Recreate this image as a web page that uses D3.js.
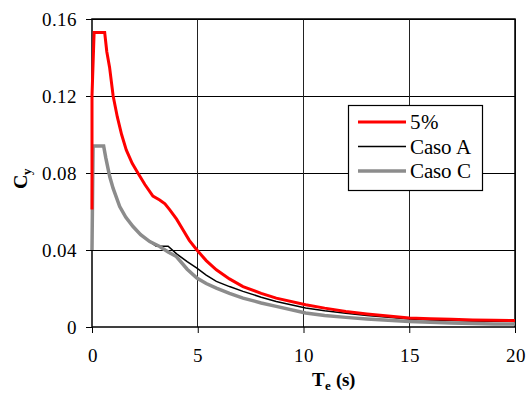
<!DOCTYPE html>
<html>
<head>
<meta charset="utf-8">
<script src="https://cdn.jsdelivr.net/npm/d3@7"></script>
<style>
  @font-face { font-family: "SerifX"; font-weight: 400; src: local("Liberation Serif"), local("LiberationSerif"), local("LiberationSerif-Regular"), local("DejaVu Serif"), local("DejaVuSerif"), local("Times New Roman"), local("Noto Serif"); }
  @font-face { font-family: "SerifX"; font-weight: 700; src: local("Liberation Serif Bold"), local("LiberationSerif-Bold"), local("DejaVu Serif Bold"), local("DejaVuSerif-Bold"), local("Times New Roman Bold"), local("Noto Serif Bold"); }
  html, body { margin: 0; padding: 0; background: #fff; }
  svg { display: block; }
  svg text { font-family: "SerifX", "Liberation Serif", "DejaVu Serif", "Times New Roman", serif !important; }
</style>
</head>
<body>
<svg id="chart" width="527" height="394"></svg>
<script>
// ---- data ----
const xTicks = [0, 5, 10, 15, 20];
const yTicks = [0, 0.04, 0.08, 0.12, 0.16];
const yTickLabels = ["0", "0.04", "0.08", "0.12", "0.16"];

const seriesNames = ["5%", "Caso A", "Caso C"];

const t5 = [0, 0, 0.03, 0.1, 0.6, 0.7, 0.83, 1.0, 1.2, 1.4, 1.62, 1.9, 2.17, 2.5, 2.88, 3.2, 3.45, 3.67, 4.0, 4.3, 4.6, 4.96, 5.4, 5.88, 6.5, 7.14, 8.0, 8.71, 10.1, 11, 12, 13, 14, 15, 16, 17, 18, 19, 20];
const c5 = [0.061, 0.12, 0.13, 0.153, 0.153, 0.143, 0.135, 0.12, 0.109, 0.100, 0.092, 0.085, 0.080, 0.074, 0.068, 0.066, 0.064, 0.061, 0.056, 0.0505, 0.045, 0.040, 0.0345, 0.0297, 0.025, 0.021, 0.0175, 0.015, 0.0116, 0.0098, 0.0081, 0.0068, 0.0057, 0.0047, 0.0043, 0.0040, 0.0037, 0.0035, 0.0034];

const tA = [0, 0.05, 0.55, 0.65, 0.84, 1.0, 1.31, 1.6, 1.94, 2.3, 2.73, 3.04, 3.6, 4.0, 4.5, 4.96, 5.4, 5.88, 6.5, 7.14, 8.0, 8.71, 10.1, 11, 12, 13, 14, 15, 16, 17, 18, 19, 20];
const cA = [0.040, 0.094, 0.094, 0.088, 0.078, 0.072, 0.0626, 0.057, 0.0522, 0.048, 0.0444, 0.042, 0.042, 0.038, 0.034, 0.0306, 0.027, 0.0237, 0.021, 0.0185, 0.0155, 0.0133, 0.0099, 0.0085, 0.0072, 0.006, 0.005, 0.0041, 0.0037, 0.0034, 0.0031, 0.003, 0.0029];

const tC = [0, 0.05, 0.55, 0.65, 0.84, 1.0, 1.31, 1.6, 1.94, 2.3, 2.73, 3.2, 3.6, 3.99, 4.5, 4.96, 5.4, 5.88, 6.5, 7.14, 8.0, 8.71, 10.1, 11, 12, 13, 14, 15, 16, 17, 18, 19, 20];
const cC = [0.040, 0.094, 0.094, 0.088, 0.078, 0.072, 0.0626, 0.057, 0.0522, 0.048, 0.0444, 0.0418, 0.039, 0.0366, 0.030, 0.0254, 0.0226, 0.0202, 0.0175, 0.015, 0.0125, 0.0107, 0.0073, 0.006, 0.005, 0.0042, 0.0035, 0.0029, 0.0025, 0.0021, 0.0018, 0.0016, 0.0015];

// ---- layout ----
const svg = d3.select("#chart");
const pL = 92, pR = 515, pT = 19, pB = 327;

const x = d3.scaleLinear().domain([0, 20]).range([pL, pR]);
const y = d3.scaleLinear().domain([0, 0.16]).range([pB, pT]);

// grid lines
svg.append("g").selectAll("line").data(yTicks.slice(1)).join("line")
  .attr("x1", pL).attr("x2", pR)
  .attr("y1", d => y(d)).attr("y2", d => y(d))
  .attr("stroke", "#000").attr("stroke-width", 1)
  .attr("shape-rendering", "crispEdges");
svg.append("g").selectAll("line").data(xTicks.slice(1)).join("line")
  .attr("y1", pT).attr("y2", pB)
  .attr("x1", d => x(d)).attr("x2", d => x(d))
  .attr("stroke", "#222").attr("stroke-width", 1)
  .attr("shape-rendering", "crispEdges");

// axes
const yAxis = d3.axisLeft(y).tickValues(yTicks)
  .tickFormat((d, i) => yTickLabels[i]).tickSize(6).tickPadding(9);
const gy = svg.append("g").attr("transform", `translate(${pL},0)`).call(yAxis);
const xAxis = d3.axisBottom(x).tickValues(xTicks).tickFormat(d3.format("d")).tickSize(6).tickPadding(16);
const gx = svg.append("g").attr("transform", `translate(0,${pB})`).call(xAxis);
[gy, gx].forEach(g => {
  g.attr("font-family", null).attr("font-size", null);
  g.select(".domain").remove();
  g.selectAll(".tick line").attr("stroke", "#000").attr("stroke-width", 1);
  g.selectAll(".tick text").attr("fill", "#000").style("font-size", "19px");
});

// frame
svg.append("rect").attr("x", pL).attr("y", pT)
  .attr("width", pR - pL).attr("height", pB - pT)
  .attr("fill", "none").attr("stroke", "#000").attr("stroke-width", 1.5);

// lines
const line = d3.line().x(d => x(d[0])).y(d => y(d[1]));
const zip = (a, b) => a.map((v, i) => [v, b[i]]);
const series = [
  { name: seriesNames[1], pts: zip(tA, cA), color: "#000000", w: 1.5 },
  { name: seriesNames[2], pts: zip(tC, cC), color: "#8c8c8c", w: 3.5 },
  { name: seriesNames[0], pts: zip(t5, c5), color: "#ff0000", w: 3 }
];
svg.append("g").selectAll("path").data(series).join("path")
  .attr("d", d => line(d.pts))
  .attr("fill", "none")
  .attr("stroke", d => d.color)
  .attr("stroke-width", d => d.w)
  .attr("stroke-linejoin", "miter");

// legend
const legend = [
  { name: seriesNames[0], color: "#ff0000", w: 3 },
  { name: seriesNames[1], color: "#000000", w: 1.5 },
  { name: seriesNames[2], color: "#8c8c8c", w: 3.5 }
];
svg.append("rect").attr("x", 348.5).attr("y", 105.5).attr("width", 134).attr("height", 85)
  .attr("fill", "#fff").attr("stroke", "#000").attr("stroke-width", 1.2);
const lg = svg.append("g").selectAll("g").data(legend).join("g")
  .attr("transform", (d, i) => `translate(0,${122 + i * 24.5})`);
lg.append("line").attr("x1", 358).attr("x2", 406).attr("y1", 0).attr("y2", 0)
  .attr("stroke", d => d.color).attr("stroke-width", d => d.w);
lg.append("text").attr("x", 410).attr("y", 0).attr("dy", "0.35em")
  .style("font-size", "21px").text(d => d.name);

// axis titles
const xt = svg.append("text").attr("x", 312).attr("y", 386)
  .style("font-size", "19px").style("font-weight", "bold");
xt.append("tspan").text("T");
xt.append("tspan").attr("dy", 4).style("font-size", "13px").text("e");
xt.append("tspan").attr("dy", -4).text(" (s)");

const yt = svg.append("text").attr("transform", "translate(27,189) rotate(-90)")
  .style("font-size", "20px").style("font-weight", "bold");
yt.append("tspan").text("C");
yt.append("tspan").attr("dy", 4).style("font-size", "13px").text("y");
</script>
</body>
</html>
